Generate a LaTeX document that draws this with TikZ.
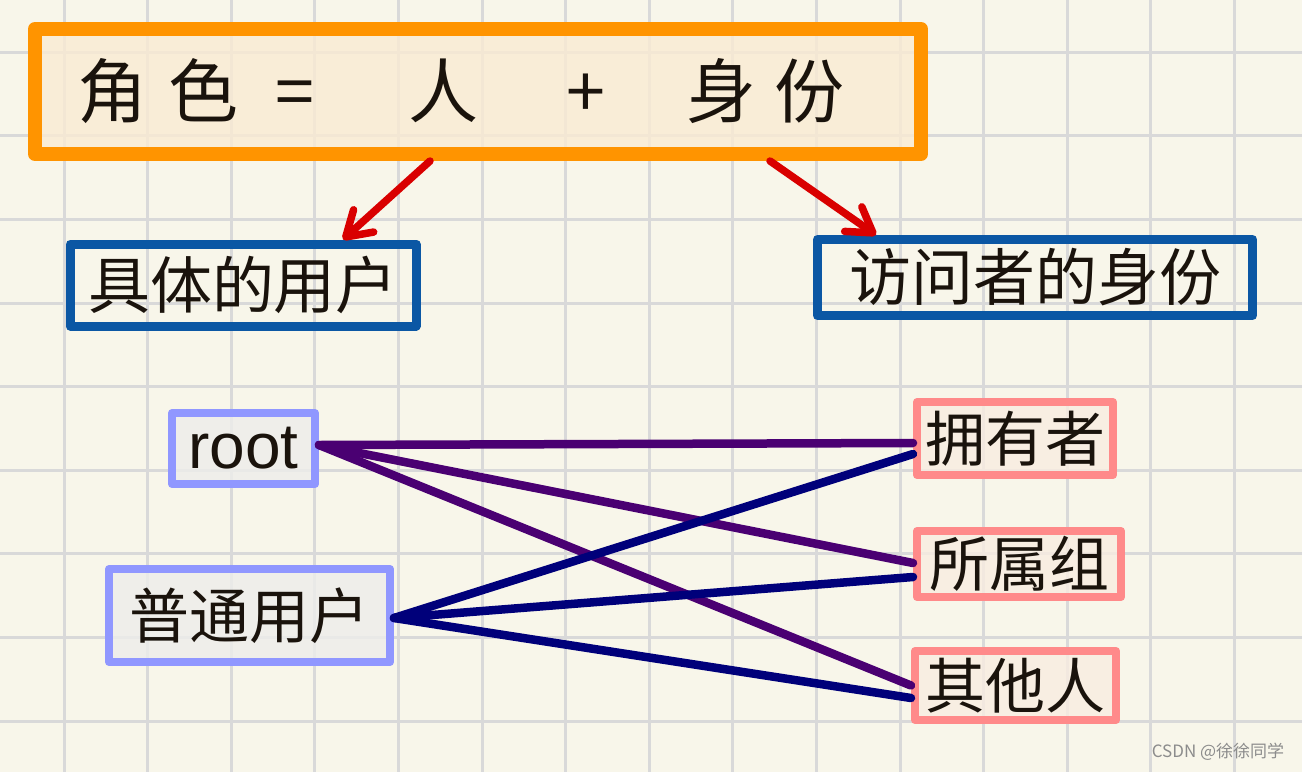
\documentclass[tikz,border=0pt]{standalone}
\usepackage{fontspec}
\setsansfont{Liberation Sans}
\newfontfamily\cjk{Noto Sans CJK SC}
\usetikzlibrary{arrows.meta}
\definecolor{paper}{HTML}{F8F6EA}
\definecolor{gridgray}{HTML}{D9D9D9}
\definecolor{rolebd}{HTML}{FF9400}
\definecolor{rolefill}{HTML}{FAEBD3}
\definecolor{kindbd}{HTML}{0B57A4}
\definecolor{userbd}{HTML}{9097FF}
\definecolor{userfill}{HTML}{EDEDEB}
\definecolor{idbd}{HTML}{FF8A8A}
\definecolor{idfill}{HTML}{F9ECE1}
\definecolor{arrowred}{HTML}{D90000}
\definecolor{rootline}{HTML}{4A0072}
\definecolor{normline}{HTML}{00007A}
\definecolor{ink}{HTML}{1A130C}
\begin{document}
\begin{tikzpicture}[x=1pt,y=-1pt,
	box/.style={draw,line join=round,inner sep=0pt,text=ink,text opacity=1},
	rolebox/.style={box,draw=rolebd,fill=rolefill,fill opacity=0.8,line width=14pt,font=\cjk\fontsize{70}{80}\selectfont},
	kindbox/.style={box,draw=kindbd,line width=9pt,font=\cjk\fontsize{62}{70}\selectfont},
	userbox/.style={box,draw=userbd,fill=userfill,fill opacity=0.8,line width=8pt,font=\cjk\fontsize{60}{70}\selectfont},
	idbox/.style={box,draw=idbd,fill=idfill,fill opacity=0.8,line width=8pt,font=\cjk\fontsize{60}{70}\selectfont},
	redarrow/.style={draw=arrowred,line width=7.5pt,line cap=round,-{Straight Barb[length=24pt,width=30pt,round]}},
	link/.style={line width=8.5pt,line cap=round}]
		% paper
		\fill[paper] (0,0) rectangle (1302,772);
		\useasboundingbox (0,0) rectangle (1302,772);
		\foreach \i in {0,...,14}
			\draw[gridgray,line width=3pt] ({64+83.6*\i},0) -- ({64+83.6*\i},772);
		\foreach \j in {0,...,8}
			\draw[gridgray,line width=3pt] (0,{52.3+83.6*\j}) -- (1302,{52.3+83.6*\j});
		% boxes
		\node[rolebox,minimum width=886pt,minimum height=125pt] (role) at (478,91.5)
			{\makebox[886pt][l]{\hspace{42pt}角\hspace{22pt}色\hspace{37pt}=\hspace{94pt}人\hspace{88pt}+\hspace{81pt}身\hspace{18pt}份}};
		\node[kindbox,minimum width=346pt,minimum height=82pt] (user) at (243,285) {具体的用户};
		\node[kindbox,minimum width=435pt,minimum height=76pt] (ident) at (1035,277.5) {访问者的身份};
		\node[userbox,font=\sffamily\fontsize{64}{70}\selectfont,minimum width=143pt,minimum height=71pt] (root) at (243.5,448.5) {root};
		\node[userbox,minimum width=281pt,minimum height=93pt] (norm) at (249.5,615.5) {普通用户};
		\node[idbox,minimum width=196pt,minimum height=73pt] (own) at (1015,438.5) {拥有者};
		\node[idbox,minimum width=204pt,minimum height=66pt] (grp) at (1019,564) {所属组};
		\node[idbox,minimum width=201pt,minimum height=69pt] (oth) at (1015.5,685.5) {其他人};
		% arrows
		\draw[redarrow] ([xshift=-48pt]role.south) -- ([xshift=100pt]user.north);
		\draw[redarrow] ([xshift=292pt]role.south) -- ([xshift=-159pt]ident.north);
		% links
		\draw[link,rootline] ([yshift=3.5pt]root.east) -- ([yshift=-4.5pt]own.west);
		\draw[link,rootline] ([yshift=3.5pt]root.east) -- ([yshift=1pt]grp.west);
		\draw[link,rootline] ([yshift=3.5pt]root.east) -- (oth.west);
		\draw[link,normline] ([yshift=-2.5pt]norm.east) -- ([yshift=-15.5pt]own.west);
		\draw[link,normline] ([yshift=-2.5pt]norm.east) -- ([yshift=-13pt]grp.west);
		\draw[link,normline] ([yshift=-2.5pt]norm.east) -- ([yshift=-12.5pt]oth.west);
		% watermark
		\node[font=\cjk\fontsize{17}{20}\selectfont,text=black!45] (mark) at (1218,752) {CSDN @徐徐同学};
	\end{tikzpicture}
\end{document}
